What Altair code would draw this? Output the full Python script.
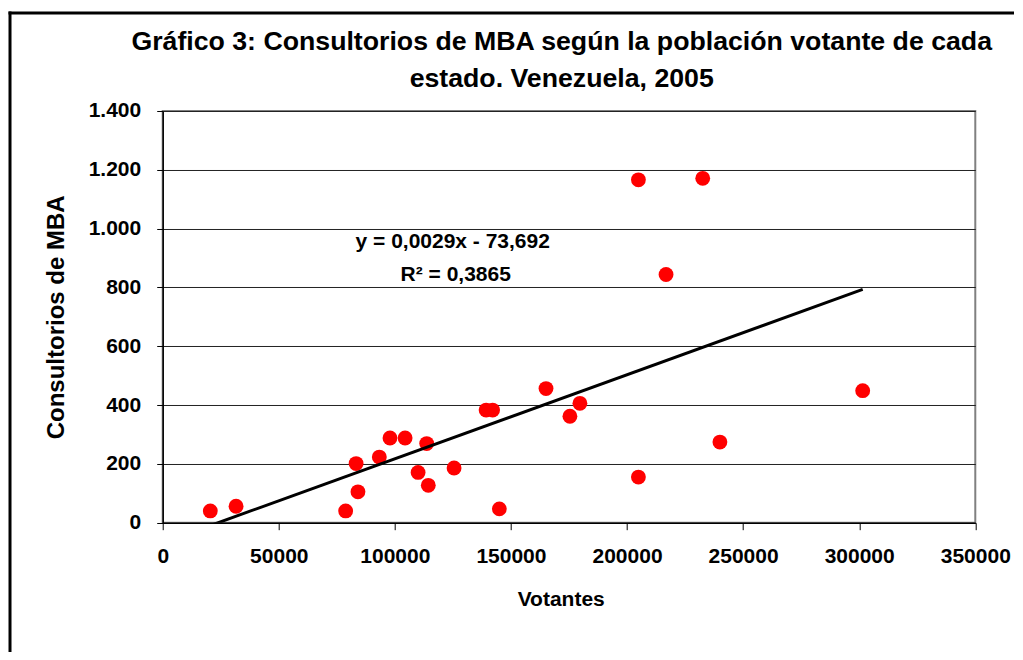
import altair as alt
import pandas as pd

# Data
votantes = [20500, 31600, 78800, 83300, 84100, 93300, 97900, 104400, 110000, 113700,
            114400, 125500, 139300, 142100, 145000, 165100, 175400, 179700, 204900,
            204900, 216800, 232600, 240000, 301500]
consultorios = [40, 56, 40, 201, 105, 223, 288, 288, 171, 269,
                127, 186, 383, 383, 47, 456, 362, 406, 1166,
                155, 844, 1171, 274, 449]
x_ticks = [0, 50000, 100000, 150000, 200000, 250000, 300000, 350000]
y_ticks = [0, 200, 400, 600, 800, 1000, 1200, 1400]
title_lines = ["Gráfico 3: Consultorios de MBA según la población votante de cada",
               "estado. Venezuela, 2005"]
eq_lines = ["y = 0,0029x - 73,692", "R² = 0,3865"]

df = pd.DataFrame({"votantes": votantes, "consultorios": consultorios})
one = pd.DataFrame({"k": [0]})

FONT = "Liberation Sans"
W, H = 812.6, 411.7

xscale = alt.Scale(domain=[0, 350000], nice=False, zero=False)
yscale = alt.Scale(domain=[0, 1400], nice=False)

xaxis = alt.Axis(values=x_ticks, format="d", grid=False, title="Votantes",
                 labelFont=FONT, labelFontSize=21, labelFontWeight="bold", labelColor="black",
                 titleFont=FONT, titleFontSize=21, titleFontWeight="bold", titleColor="black",
                 tickColor="black", tickSize=7, domainColor="black", domainWidth=1.5,
                 labelPadding=16, titleX=398, titleY=77, titleBaseline="middle",
                 labelFlush=False)
yaxis = alt.Axis(values=y_ticks, grid=True, gridColor="#222222", gridWidth=1,
                 title="Consultorios de MBA",
                 labelExpr="replace(format(datum.value, ','), ',', '.')",
                 labelFont=FONT, labelFontSize=21, labelFontWeight="bold", labelColor="black",
                 titleFont=FONT, titleFontSize=24, titleFontWeight="bold", titleColor="black",
                 tickColor="black", tickSize=6, domainColor="black", domainWidth=1.5,
                 labelPadding=16, titleX=-106, titleY=H / 2, titleBaseline="middle",
                 titleAngle=270)

points = alt.Chart(df).mark_circle(size=220, color="#FF0000", opacity=1).encode(
    x=alt.X("votantes:Q", scale=xscale, axis=xaxis),
    y=alt.Y("consultorios:Q", scale=yscale, axis=yaxis),
)

trend = alt.Chart(df).transform_regression(
    "votantes", "consultorios", method="linear"
).mark_line(color="black", strokeWidth=3, clip=True).encode(
    x=alt.X("votantes:Q", scale=xscale),
    y=alt.Y("consultorios:Q", scale=yscale),
)

frame_left = alt.Chart(one).mark_rule(stroke="black", strokeWidth=3).encode(
    x=alt.value(-152.7), y=alt.value(-99.5), y2=alt.value(700)
)
frame_top = alt.Chart(one).mark_rule(stroke="black", strokeWidth=3).encode(
    x=alt.value(-154.2), x2=alt.value(1000), y=alt.value(-98)
)

def text_layer(txt, x, y, size):
    return alt.Chart(one).mark_text(font=FONT, fontSize=size, fontWeight="bold",
                                    color="black", align="center", baseline="alphabetic").encode(
        x=alt.value(x), y=alt.value(y), text=alt.value(txt))

t1 = text_layer(title_lines[0], 399, -61, 26.7)
t2 = text_layer(title_lines[1], 399, -24, 26.7)
e1 = text_layer(eq_lines[0], 290, 137, 21)
e2 = text_layer(eq_lines[1], 293, 170, 21)

chart = alt.layer(frame_left, frame_top, points, trend, t1, t2, e1, e2).properties(
    width=W, height=H,
    autosize=alt.AutoSizeParams(type="none"),
    padding={"left": 154.7, "top": 103, "right": 39, "bottom": 129},
    background="white",
).configure_view(stroke="#808080", strokeWidth=2)

chart.save("out.html", embed_options={"renderer": "svg", "actions": False})
